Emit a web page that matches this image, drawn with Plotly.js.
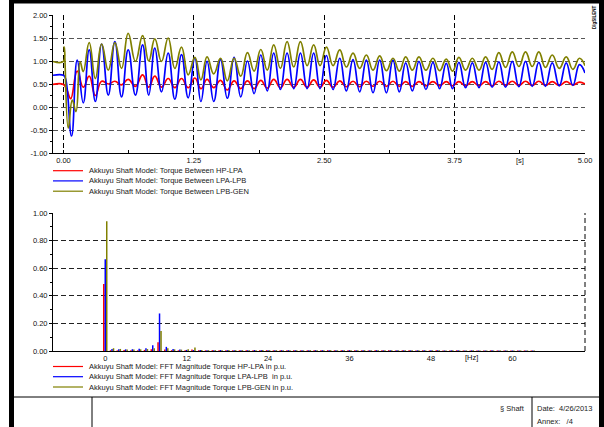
<!DOCTYPE html>
<html><head><meta charset="utf-8">
<script src="https://cdn.plot.ly/plotly-3.0.1.min.js"></script>
<style>html,body{margin:0;padding:0;background:#fff;overflow:hidden}#chart{width:604px;height:427px}</style>
</head><body><div id="chart"></div>
<script>
// ---------------- DATA ----------------
const topNames = ["Akkuyu Shaft Model: Torque Between HP-LPA",
                  "Akkuyu Shaft Model: Torque Between LPA-LPB",
                  "Akkuyu Shaft Model: Torque Between LPB-GEN"];
const fftNames = ["Akkuyu Shaft Model: FFT Magnitude Torque HP-LPA in p.u.",
                  "Akkuyu Shaft Model: FFT Magnitude Torque LPA-LPB  in p.u.",
                  "Akkuyu Shaft Model: FFT Magnitude Torque LPB-GEN in p.u."];
const seriesColors = ["#ff0000", "#0000ff", "#808000"];

// initial transient (per series), time in s
const tEarlyHP  = [-0.1, 0.0, 0.035, 0.07, 0.132, 0.19];
const hpEarly   = [0.49, 0.49, 0.36, 0.18, 0.78, 0.43];
const tEarlyLPA = [-0.1, 0.0, 0.02, 0.078, 0.132, 0.19];
const lpaEarly  = [0.69, 0.69, 0.62, -0.63, 1.02, 0.09];
const tEarlyGEN = [-0.1, 0.0, 0.008, 0.046, 0.085, 0.12, 0.16, 0.19];
const genEarly  = [0.99, 0.99, 1.31, -0.46, 0.15, -0.10, 0.98, 0.77];

// oscillation extrema (peak / trough alternating), time in s
const tOsc = [0.247,0.306,0.366,0.430,0.493,0.557,0.621,0.690,0.759,0.818,
              0.876,0.940,1.004,1.068,1.132,1.196,1.260,1.318,1.377,1.441,
              1.506,1.571,1.636,1.700,1.764,1.828,1.892,1.954,2.016,2.080,
              2.144,2.208,2.272,2.336,2.399,2.460,2.521,2.585,2.649,2.712,
              2.776,2.840,2.904,2.968,3.032,3.096,3.159,3.220,3.281,3.345,
              3.408,3.475,3.542,3.606,3.670,3.730,3.791,3.855,3.920,3.984,
              4.047,4.110,4.174,4.238,4.303,4.366,4.430,4.494,4.557,4.621,
              4.686,4.753,4.820,4.884,4.947,5.000];
const hpOsc = [0.67,0.25,0.56,0.50,0.56,0.48,0.60,0.45,0.70,0.43,
               0.67,0.43,0.62,0.42,0.62,0.42,0.63,0.40,0.60,0.42,
               0.58,0.37,0.57,0.40,0.57,0.40,0.58,0.41,0.60,0.42,
               0.60,0.43,0.60,0.43,0.59,0.43,0.58,0.43,0.57,0.44,
               0.56,0.44,0.56,0.45,0.56,0.45,0.56,0.45,0.55,0.45,
               0.55,0.46,0.55,0.46,0.55,0.46,0.55,0.46,0.55,0.46,
               0.55,0.46,0.56,0.47,0.56,0.47,0.56,0.47,0.56,0.47,
               0.55,0.47,0.55,0.48,0.54,0.50];
const lpaOsc = [1.24,0.12,1.37,0.26,1.42,0.22,1.24,0.26,1.35,0.26,
                1.28,0.33,1.17,0.17,1.14,0.20,1.06,0.12,0.99,0.12,
                1.03,0.19,1.08,0.22,1.00,0.29,1.13,0.35,1.17,0.38,
                1.17,0.40,1.17,0.40,1.17,0.40,1.12,0.38,1.06,0.35,
                1.03,0.33,1.02,0.31,1.02,0.31,1.02,0.33,0.96,0.35,
                0.99,0.38,0.97,0.40,0.95,0.40,0.97,0.42,0.96,0.42,
                0.97,0.43,0.98,0.43,0.99,0.44,0.99,0.45,0.97,0.45,
                0.96,0.46,0.96,0.47,0.92,0.74];
const genOsc = [1.40,0.62,1.37,0.80,1.40,0.84,1.60,0.99,1.55,1.00,
                1.48,0.99,1.50,0.84,1.30,0.70,1.08,0.59,1.09,0.72,
                1.06,0.57,1.06,0.67,1.18,0.78,1.25,0.80,1.35,0.84,
                1.42,0.87,1.42,0.90,1.35,0.90,1.30,0.90,1.24,0.87,
                1.17,0.84,1.13,0.80,1.11,0.79,1.06,0.78,1.09,0.80,
                1.09,0.80,1.06,0.79,1.04,0.78,1.08,0.80,1.06,0.80,
                1.09,0.82,1.18,0.86,1.20,0.88,1.20,0.88,1.20,0.86,
                1.13,0.84,1.09,0.82,1.06,0.90];

// FFT magnitudes, frequency in Hz
const fftFreq = [0,1,2,3,4,5,6,7,8,9,10,11,12,13,14,15,16,17,18,19,20,21,22,23,24,25,26,27,28,29,30,31,
                 32,33,34,35,36,37,38,39,40,41,42,43,44,45,46,47,48,49,50,51,52,53,54,55,56,57,58,59,60,61,62,63];
const fftHP  = [0.485,0.006,0.005,0.008,0.006,0.005,0.008,0.012,0.063,0.010,0.006,0.005,0.006,0.010,0.005,0.005,
                0.006,0.005,0.006,0.005,0.005,0.006,0.005,0.005,0.006,0.005,0.005,0.005,0.006,0.005,0.005,0.005,
                0.005,0.006,0.005,0.005,0.005,0.005,0.005,0.004,0.005,0.005,0.005,0.004,0.005,0.005,0.004,0.005,
                0.004,0.005,0.004,0.004,0.005,0.004,0.004,0.004,0.004,0.005,0.004,0.004,0.004,0.004,0.004,0.004];
const fftLPA = [0.665,0.015,0.012,0.012,0.013,0.016,0.020,0.042,0.272,0.030,0.015,0.010,0.008,0.007,0.007,0.006,
                0.006,0.007,0.006,0.006,0.006,0.006,0.007,0.006,0.006,0.006,0.006,0.006,0.006,0.006,0.005,0.006,
                0.006,0.005,0.006,0.005,0.006,0.005,0.005,0.005,0.006,0.005,0.005,0.005,0.005,0.005,0.005,0.005,
                0.005,0.005,0.004,0.005,0.005,0.004,0.005,0.004,0.004,0.005,0.004,0.004,0.004,0.004,0.004,0.004];
const fftGEN = [0.940,0.020,0.015,0.010,0.010,0.012,0.014,0.020,0.145,0.020,0.012,0.010,0.012,0.025,0.008,0.006,
                0.006,0.006,0.007,0.006,0.006,0.006,0.006,0.007,0.006,0.006,0.006,0.006,0.006,0.005,0.006,0.006,
                0.005,0.006,0.005,0.006,0.005,0.005,0.006,0.005,0.005,0.005,0.005,0.005,0.005,0.005,0.005,0.004,
                0.005,0.005,0.004,0.005,0.004,0.004,0.005,0.004,0.004,0.004,0.004,0.004,0.004,0.004,0.004,0.004];

// axis tick labels
const topXVals = [0, 1.25, 2.5, 3.75, 5.0];
const topXText = ["0.00", "1.25", "2.50", "3.75", "5.00"];
const topYVals = [-1, -0.5, 0, 0.5, 1, 1.5, 2];
const topYText = ["-1.00", "-0.50", "0.00", "0.50", "1.00", "1.50", "2.00"];
const botXVals = [0, 12, 24, 36, 48, 60];
const botXText = ["0", "12", "24", "36", "48", "60"];
const botYVals = [0, 0.2, 0.4, 0.6, 0.8, 1.0];
const botYText = ["0.00", "0.20", "0.40", "0.60", "0.80", "1.00"];
const topUnit = "[s]", topUnitAt = 4.375;
const botUnit = "[Hz]", botUnitAt = 54;
const footerMid = "§ Shaft";
const footerDate = "Date:  4/26/2013";
const footerAnnex = "Annex:   /4";
const logoText = "DIgSILENT";

// ---------------- LAYOUT HELPERS ----------------
const W = 604, H = 427;
const px = v => v / W;
const py = v => 1 - v / H;
const FONT = "Liberation Sans, Arial, sans-serif";
const tickFont = {family: FONT, size: 7.5, color: "#111"};

const traces = [
  {x: tEarlyHP.concat(tOsc),  y: hpEarly.concat(hpOsc),  name: topNames[0]},
  {x: tEarlyLPA.concat(tOsc), y: lpaEarly.concat(lpaOsc), name: topNames[1]},
  {x: tEarlyGEN.concat(tOsc), y: genEarly.concat(genOsc), name: topNames[2]}
].map((t, i) => Object.assign(t, {type: "scatter", mode: "lines", xaxis: "x", yaxis: "y",
   line: {color: seriesColors[i], width: 1.7, shape: "spline", smoothing: 1.3}, showlegend: false}));

[fftHP, fftLPA, fftGEN].forEach((v, i) => traces.push({
  type: "bar", x: fftFreq, y: v, xaxis: "x2", yaxis: "y2", name: fftNames[i],
  marker: {color: seriesColors[i], line: {width: 0}}, showlegend: false}));

const shapes = [];
const annotations = [];
// outer frame
shapes.push({type: "rect", xref: "paper", yref: "paper", x0: px(9), x1: px(14), y0: 0, y1: 1, fillcolor: "#000", line: {width: 0}});
shapes.push({type: "rect", xref: "paper", yref: "paper", x0: px(599), x1: 1, y0: 0, y1: 1, fillcolor: "#000", line: {width: 0}});
shapes.push({type: "rect", xref: "paper", yref: "paper", x0: px(9), x1: 1, y0: py(3.5), y1: 1, fillcolor: "#000", line: {width: 0}});
// footer table
shapes.push({type: "line", xref: "paper", yref: "paper", x0: px(14), x1: px(599), y0: py(397), y1: py(397), line: {color: "#000", width: 1}});
shapes.push({type: "line", xref: "paper", yref: "paper", x0: px(92), x1: px(92), y0: py(397), y1: 0, line: {color: "#000", width: 1}});
shapes.push({type: "line", xref: "paper", yref: "paper", x0: px(532), x1: px(532), y0: py(397), y1: 0, line: {color: "#000", width: 1}});
// right dashed border of lower plot
shapes.push({type: "line", xref: "paper", yref: "paper", x0: px(585), x1: px(585), y0: py(351), y1: py(213), line: {color: "#000", width: 1, dash: "5px,3px"}});

// custom legends
const legTop = [170.7, 180.9, 191.2], legBot = [366.5, 376.7, 387.0];
[[topNames, legTop], [fftNames, legBot]].forEach(([names, ys]) => {
  names.forEach((n, i) => {
    shapes.push({type: "line", xref: "paper", yref: "paper", x0: px(53), x1: px(83), y0: py(ys[i]), y1: py(ys[i]),
                 line: {color: seriesColors[i], width: 1.2}});
    annotations.push({text: n, xref: "paper", yref: "paper", x: px(86.5), y: py(ys[i]), xanchor: "left", yanchor: "middle",
                      showarrow: false, font: {family: FONT, size: 7.5, color: "#222"}});
  });
});
annotations.push({text: topUnit, xref: "x", yref: "paper", x: topUnitAt, y: py(160), xanchor: "center", yanchor: "middle",
                  showarrow: false, font: tickFont});
annotations.push({text: botUnit, xref: "x2", yref: "paper", x: botUnitAt, y: py(357), xanchor: "center", yanchor: "middle",
                  showarrow: false, font: tickFont});
annotations.push({text: footerMid, xref: "paper", yref: "paper", x: px(527), y: py(408), xanchor: "right", yanchor: "middle",
                  showarrow: false, font: {family: FONT, size: 7.5, color: "#222"}});
annotations.push({text: footerDate, xref: "paper", yref: "paper", x: px(535), y: py(408), xanchor: "left", yanchor: "middle",
                  showarrow: false, font: {family: FONT, size: 7.5, color: "#222"}});
annotations.push({text: footerAnnex, xref: "paper", yref: "paper", x: px(535), y: py(421), xanchor: "left", yanchor: "middle",
                  showarrow: false, font: {family: FONT, size: 7.5, color: "#222"}});
annotations.push({text: "<b>" + logoText + "</b>", xref: "paper", yref: "paper", x: px(594), y: py(17), xanchor: "center", yanchor: "middle",
                  textangle: -90, showarrow: false, font: {family: FONT, size: 4.5, color: "#000"}});

const gridDash = "5px,3px";
const layout = {
  width: W, height: H, margin: {l: 0, r: 0, t: 0, b: 0},
  paper_bgcolor: "#fff", plot_bgcolor: "rgba(0,0,0,0)",
  font: {family: FONT, size: 7.5, color: "#111"},
  showlegend: false, barmode: "group", bargap: 0.34, bargroupgap: 0,
  xaxis: {domain: [px(53), px(585)], anchor: "y", range: [-0.1, 5.0],
          tickmode: "array", tickvals: topXVals, ticktext: topXText, tickfont: tickFont,
          ticks: "inside", ticklen: 3, tickcolor: "#000", showline: true, linecolor: "#000", linewidth: 1,
          showgrid: true, gridcolor: "#000", gridwidth: 1, griddash: gridDash, zeroline: false,
          minor: {tickmode: "linear", tick0: 0, dtick: 0.625, ticks: "inside", ticklen: 3, tickcolor: "#000", showgrid: false}},
  yaxis: {domain: [py(153), py(15)], anchor: "x", range: [-1, 2],
          tickmode: "array", tickvals: topYVals, ticktext: topYText, tickfont: tickFont,
          ticks: "outside", ticklen: 3, tickcolor: "#000", showline: true, linecolor: "#000", linewidth: 1,
          showgrid: true, gridcolor: "#555", gridwidth: 1, griddash: gridDash, zeroline: false,
          minor: {tickmode: "linear", tick0: 0, dtick: 0.25, ticks: "outside", ticklen: 2, tickcolor: "#000", showgrid: false}},
  xaxis2: {domain: [px(53), px(585)], anchor: "y2", range: [-7.7, 70.7],
          tickmode: "array", tickvals: botXVals, ticktext: botXText, tickfont: tickFont,
          ticks: "", showline: true, linecolor: "#000", linewidth: 1, showgrid: false, zeroline: false},
  yaxis2: {domain: [py(351), py(213)], anchor: "x2", range: [0, 1],
          tickmode: "array", tickvals: botYVals, ticktext: botYText, tickfont: tickFont,
          ticks: "outside", ticklen: 3, tickcolor: "#000", showline: true, linecolor: "#000", linewidth: 1,
          showgrid: true, gridcolor: "#222", gridwidth: 1, griddash: gridDash, zeroline: false,
          minor: {tickmode: "linear", tick0: 0, dtick: 0.1, ticks: "outside", ticklen: 2, tickcolor: "#000", showgrid: false}},
  shapes: shapes, annotations: annotations
};
Plotly.newPlot("chart", traces, layout, {staticPlot: true, displayModeBar: false});
</script></body></html>
